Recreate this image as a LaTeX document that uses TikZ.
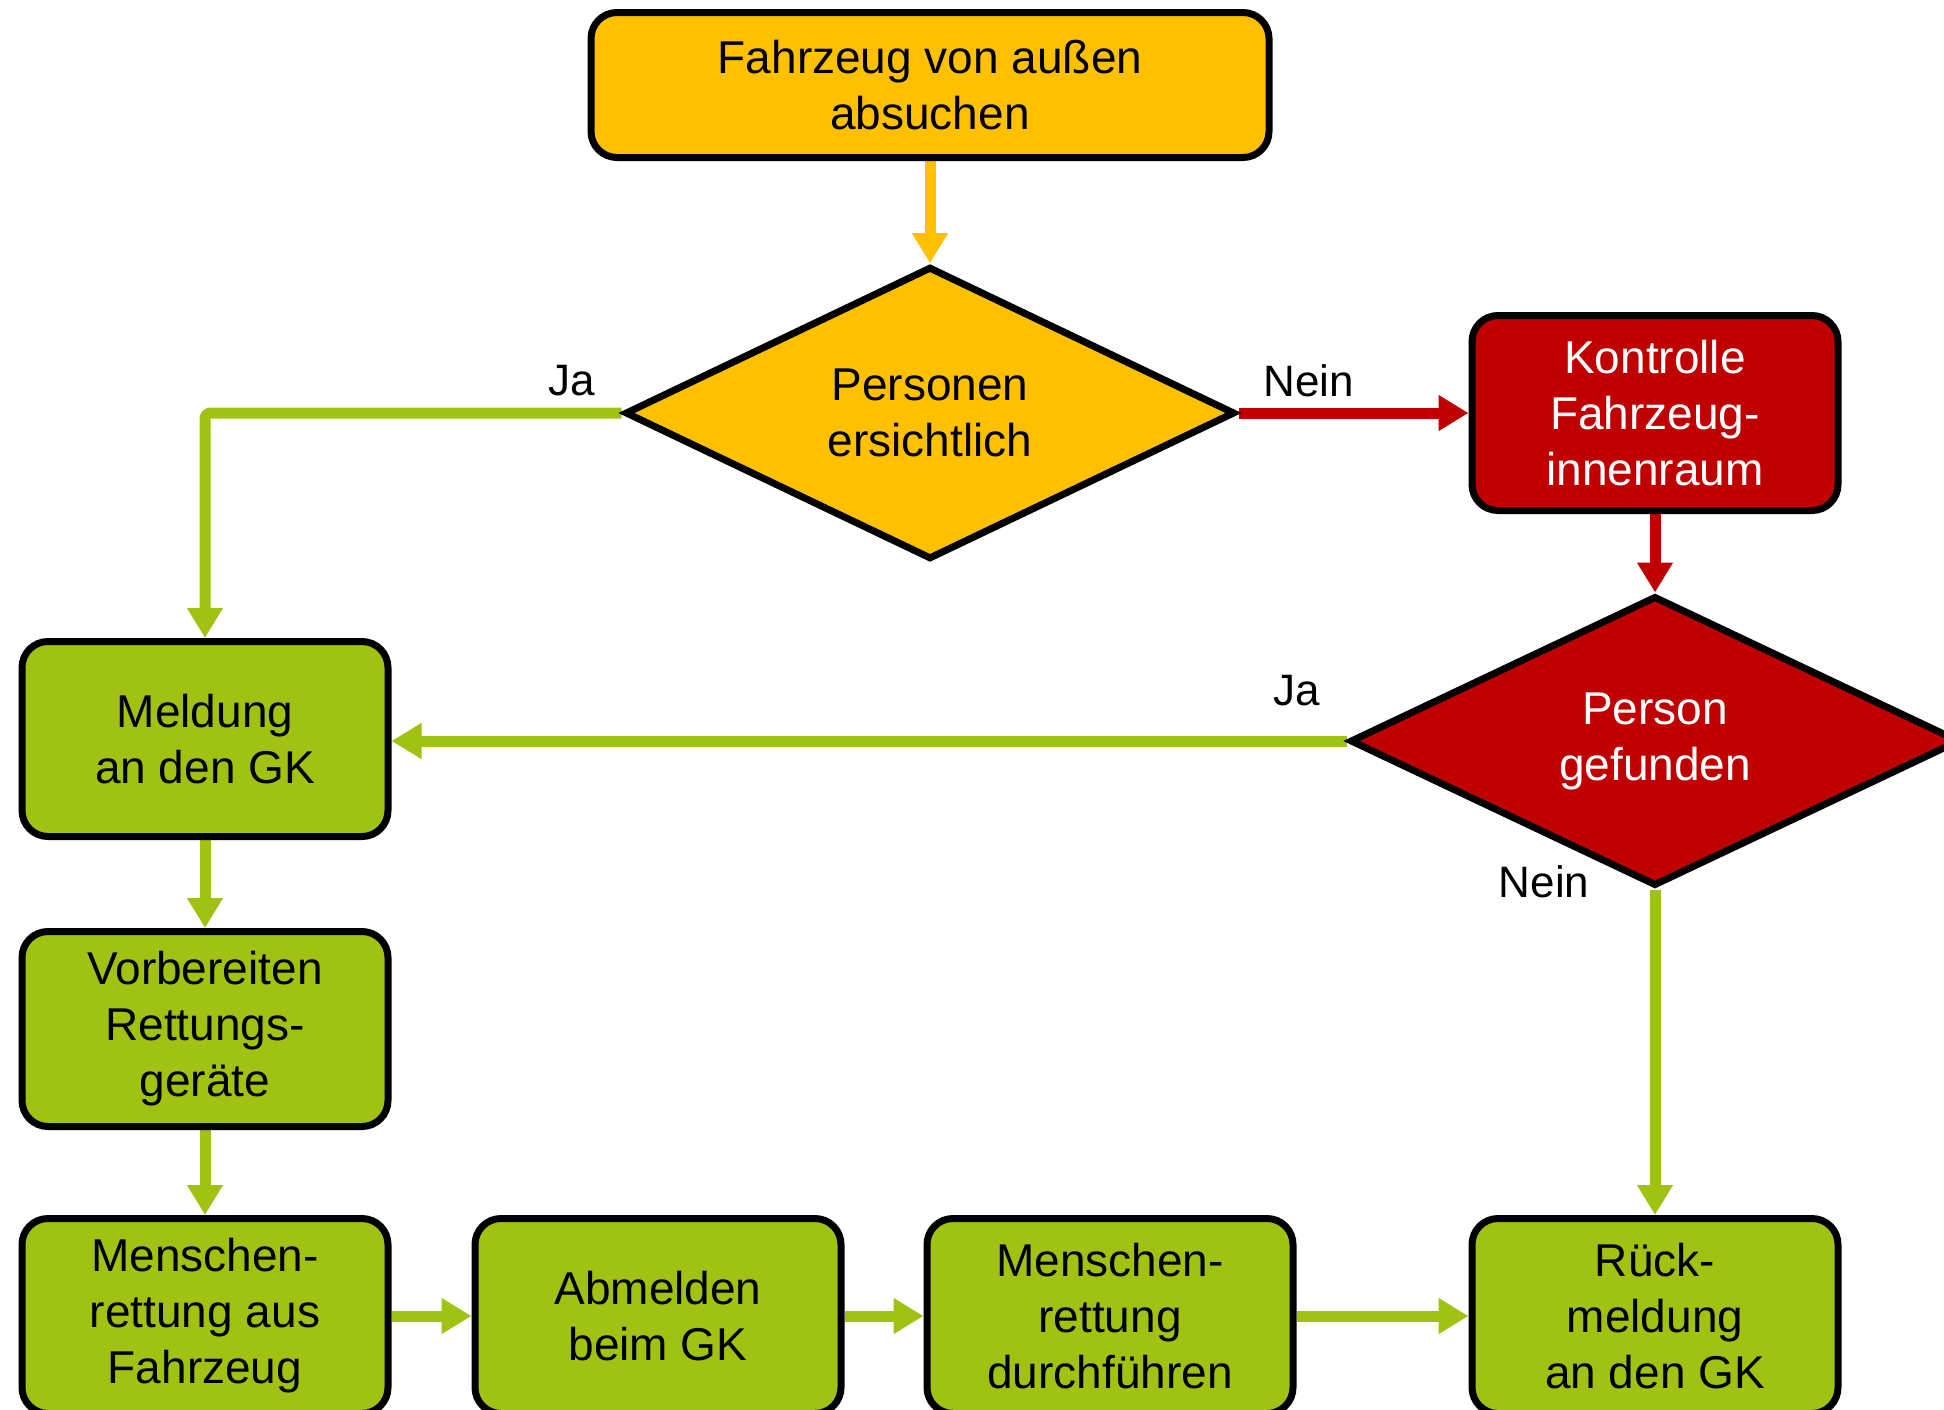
\documentclass[tikz,border=0pt]{standalone}
\usepackage{fontspec}
\setmainfont{Liberation Sans}
\usetikzlibrary{shapes.geometric,arrows.meta,backgrounds}
\definecolor{cOrange}{RGB}{255,192,0}
\definecolor{cRed}{RGB}{192,0,0}
\definecolor{cGreen}{RGB}{160,194,18}
\begin{document}
\begin{tikzpicture}[x=0.5pt,y=-0.5pt,
 every node/.style={font=\fontsize{23}{28}\selectfont},
 procbox/.style={draw=black,line width=3.5pt,rounded corners=13pt,align=center,minimum width=183pt,minimum height=97.5pt,inner sep=0pt},
 decbox/.style={diamond,draw=black,line width=3.5pt,align=center,minimum width=305pt,minimum height=145pt,inner sep=0pt},
 conn/.style={line width=5.5pt,-{Triangle[width=17pt,length=15pt]}},
 lbl/.style={font=\fontsize{22}{26}\selectfont}
]
\useasboundingbox (0,0) rectangle (1944,1409);
\node[procbox,fill=cOrange,minimum width=339pt,minimum height=72.5pt] (top) at (930,85) {Fahrzeug von außen\\absuchen};
\node[decbox,fill=cOrange] (d1) at (930,413) {Personen\\ersichtlich};
\node[procbox,fill=cRed,text=white] (kon) at (1655,413) {Kontrolle\\Fahrzeug-\\innenraum};
\node[decbox,fill=cRed,text=white] (d2) at (1655,741) {Person\\gefunden};
\node[procbox,fill=cGreen] (mel) at (205,739) {Meldung\\an den GK};
\node[procbox,fill=cGreen] (vor) at (205,1029) {Vorbereiten\\Rettungs-\\geräte};
\node[procbox,fill=cGreen] (mra) at (205,1316) {Menschen-\\rettung aus\\Fahrzeug};
\node[procbox,fill=cGreen] (abm) at (658,1316) {Abmelden\\beim GK};
\node[procbox,fill=cGreen] (mrd) at (1110,1316) {Menschen-\\rettung\\durchführen};
\node[procbox,fill=cGreen] (rue) at (1655,1316) {Rück-\\meldung\\an den GK};

\node[lbl] (ja1) at (572,381) {Ja};
\node[lbl] (nein1) at (1309,381) {Nein};
\node[lbl] (ja2) at (1297,691) {Ja};
\node[lbl] (nein2) at (1544,882) {Nein};

\begin{scope}[on background layer]
\draw[conn,cOrange] (top.south) -- (d1.north);
\draw[conn,cRed] (d1.east) -- (kon.west);
\draw[conn,cGreen,rounded corners=3pt] (d1.west) -| (mel.north);
\draw[conn,cRed] (kon.south) -- (d2.north);
\draw[conn,cGreen] (d2.west) -- (d2.west -| mel.east);
\draw[conn,cGreen] (d2.south) -- (d2.south |- rue.north);
\draw[conn,cGreen] (mel.south) -- (vor.north);
\draw[conn,cGreen] (vor.south) -- (mra.north);
\draw[conn,cGreen] (mra.east) -- (abm.west);
\draw[conn,cGreen] (abm.east) -- (mrd.west);
\draw[conn,cGreen] (mrd.east) -- (rue.west);
\end{scope}
\end{tikzpicture}
\end{document}
